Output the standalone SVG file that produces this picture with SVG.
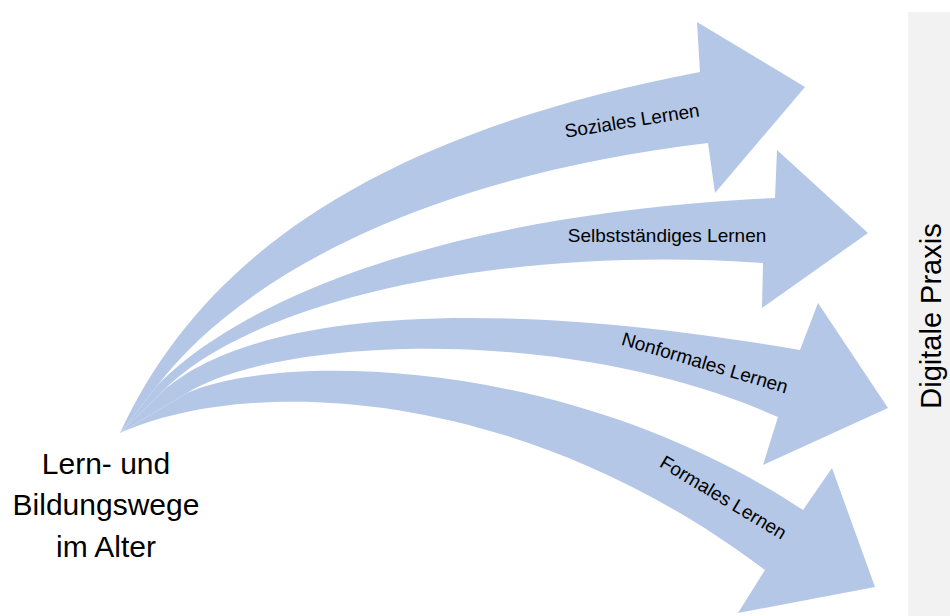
<svg xmlns="http://www.w3.org/2000/svg" width="950" height="616" viewBox="0 0 950 616">
  <style>
    .arrow { fill: #b4c7e7; stroke: none; }
    .lbl { font-family: "Liberation Sans", Arial, sans-serif; font-size: 19px; fill: #000; text-anchor: middle; }
    .big { font-family: "Liberation Sans", Arial, sans-serif; font-size: 30px; fill: #000; text-anchor: middle; }
  </style>
  <rect x="0" y="0" width="950" height="616" fill="#ffffff"/>
  <g id="panel-digitale-praxis">
    <rect x="908" y="12" width="42" height="604" fill="#f2f2f2"/>
    <text class="big" style="font-size:29px" transform="translate(941,316) rotate(-90)" x="0" y="0">Digitale Praxis</text>
  </g>
  <g id="connectors">
    <g id="arrow-soziales">
      <path class="arrow" d="M120,433 C200,260 370,135 700,72 L697,22 L805,87 L715,193 L708,143 C400,180 230,290 157,386 Z"/>
      <text class="lbl" transform="translate(633,127) rotate(-9)">Soziales Lernen</text>
    </g>
    <g id="arrow-selbststaendiges">
      <path class="arrow" d="M120,433 L157,386 C230,310 420,215 775,198 L777,150 L868,233 L762,308 L763,263 C500,245 250,300 161,393 Z"/>
      <text class="lbl" x="667" y="242">Selbstständiges Lernen</text>
    </g>
    <g id="arrow-nonformales">
      <path class="arrow" d="M120,433 L161,393 C240,320 450,290 800,350 L818,303 L888,408 L763,465 L778,417 C560,320 270,340 187,393 Z"/>
      <text class="lbl" transform="translate(703,369) rotate(16.5)">Nonformales Lernen</text>
    </g>
    <g id="arrow-formales">
      <path class="arrow" d="M120,433 L187,393 C270,355 560,350 803,510 L832,468 L875,587 L738,613 L765,570 C520,385 250,375 120,433 Z"/>
      <text class="lbl" transform="translate(720,503) rotate(31)">Formales Lernen</text>
    </g>
  </g>
  <g id="node-lern-und-bildungswege">
    <text class="big" x="106" y="474">Lern- und</text>
    <text class="big" x="106" y="515">Bildungswege</text>
    <text class="big" x="106" y="557">im Alter</text>
  </g>
</svg>
